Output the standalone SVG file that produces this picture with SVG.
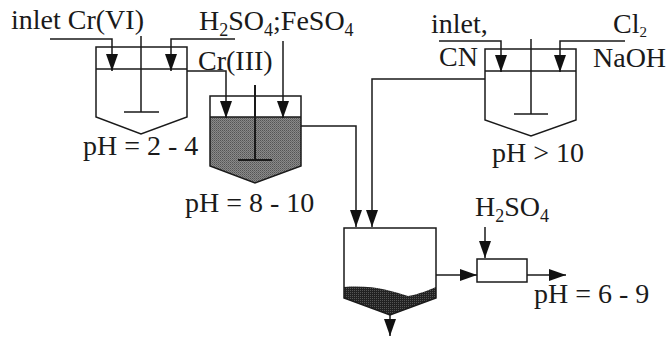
<svg xmlns="http://www.w3.org/2000/svg" width="668" height="338" viewBox="0 0 668 338">
<defs>
<marker id="arr" markerUnits="userSpaceOnUse" markerWidth="18" markerHeight="14" refX="17" refY="7" orient="auto" viewBox="0 0 18 14"><path d="M0 1L17 7L0 13Z" fill="#111"/></marker>
<pattern id="dots" width="2" height="2" patternUnits="userSpaceOnUse"><rect width="2" height="2" fill="#8a8a8a"/><rect width="1" height="1" fill="#555"/><rect x="1" y="1" width="1" height="1" fill="#6a6a6a"/></pattern>
<pattern id="dark" width="2" height="2" patternUnits="userSpaceOnUse"><rect width="2" height="2" fill="#222"/><rect width="1" height="1" fill="#555"/></pattern>
</defs>
<style>
.l{fill:none;stroke:#1a1a1a;stroke-width:1.5}
.t{stroke-width:2}
.a{marker-end:url(#arr)}
text{font-family:"Liberation Serif","Times New Roman",serif;font-size:28px;fill:#1a1a1a}
.s{font-size:18px}
.u{font-size:15px}
</style>
<rect width="668" height="338" fill="#fff"/>
<g id="tank-cr6">
<path class="l" d="M96 47H187V117L141 134L96 117Z"/>
<path class="l" d="M96 69H187M141 36V112M124 112H159"/>
<text x="11" y="29">inlet Cr(VI)</text>
<text x="83" y="155">pH = 2 - 4</text>
</g>
<g id="tank-cr3">
<path d="M210 117H301V166L255 183L210 166Z" fill="url(#dots)"/>
<path class="l" d="M210 96H301V166L255 183L210 166Z"/>
<path class="l" d="M210 117H301"/>
<path class="l t" d="M255 85V160M238 160H272"/>
<text x="199" y="30">H<tspan class="s" dy="6">2</tspan><tspan dy="-6">SO</tspan><tspan class="s" dy="6">4</tspan><tspan dy="-6">;FeSO</tspan><tspan class="s" dy="6">4</tspan></text>
<text x="198" y="70">Cr(III)</text>
<text x="185" y="212">pH = 8 - 10</text>
</g>
<g id="tank-cn">
<path class="l" d="M485 49H576V120L531 136L485 120Z"/>
<path class="l" d="M485 71H576M531 39V114M514 114H548"/>
<text x="431" y="33">inlet,</text>
<text x="439" y="66">CN</text>
<text x="613" y="33">Cl<tspan class="u" dy="4">2</tspan></text>
<text x="593" y="67">NaOH</text>
<text x="492" y="162">pH &gt; 10</text>
</g>
<g id="settler">
<path d="M344 287C375 285 390 291 408 296C420 294 428 290 436 287V298L390 315L344 298Z" fill="url(#dark)"/>
<path class="l" d="M344 228H436V298L390 315L344 298Z"/>
</g>
<g id="neutralizer">
<rect class="l" x="477" y="259" width="50" height="23"/>
<text x="475" y="216">H<tspan class="s" dy="6">2</tspan><tspan dy="-6">SO</tspan><tspan class="s" dy="6">4</tspan></text>
<text x="534" y="303">pH = 6 - 9</text>
</g>
<g id="connectors">
<path class="l a" d="M50 39H112V71"/>
<path class="l a" d="M235 39H171V71"/>
<path class="l a" d="M187 71H226V118"/>
<path class="l a" d="M283 41V118"/>
<path class="l a" d="M301 126H356V227"/>
<path class="l a" d="M439 41H501V72"/>
<path class="l a" d="M625 41H560V72"/>
<path class="l a" d="M485 79H372V227"/>
<path class="l a" d="M390 315V336"/>
<path class="l a" d="M485 227V258"/>
<path class="l a" d="M436 275H477"/>
<path class="l a" d="M527 275H566"/>
</g>
</svg>
